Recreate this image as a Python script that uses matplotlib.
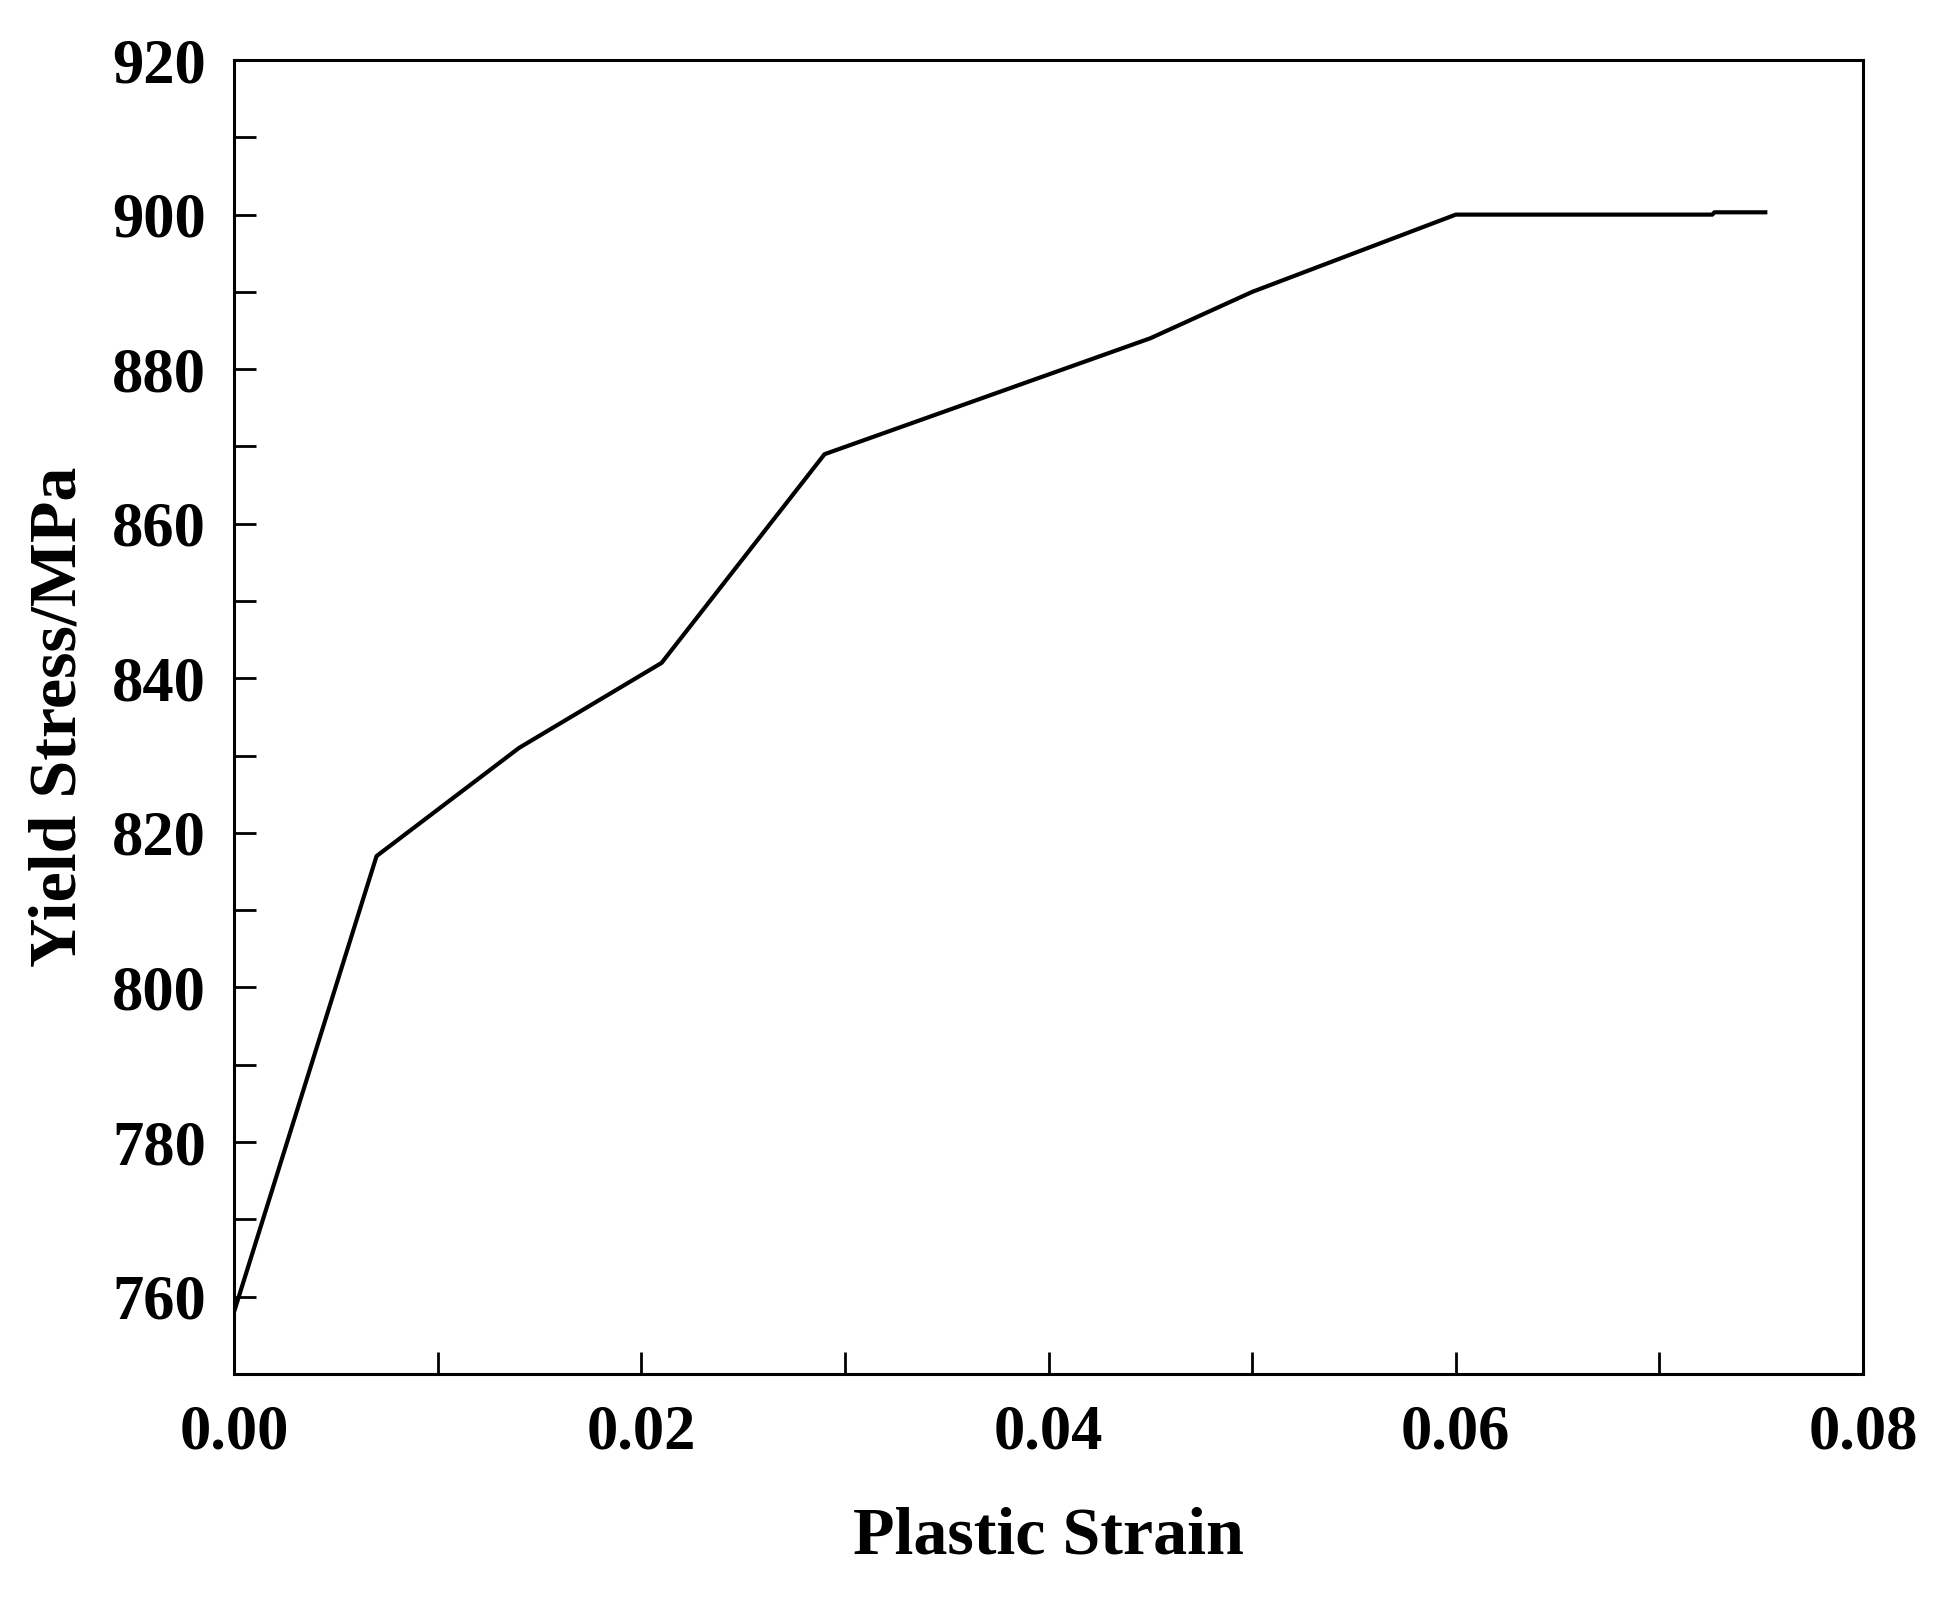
import matplotlib
matplotlib.use("Agg")
import matplotlib.pyplot as plt
from matplotlib.ticker import MultipleLocator

# data
strain = [0.0, 0.007, 0.014, 0.021, 0.029, 0.045, 0.050, 0.060, 0.0726, 0.0727, 0.0752]
stress = [758, 817, 831, 842, 869, 884, 890, 900, 900, 900.3, 900.3]

plt.rcParams['font.family'] = ['Liberation Serif', 'DejaVu Serif']
plt.rcParams['font.weight'] = 'bold'

fig = plt.figure(figsize=(19.5, 15.97), dpi=100)
ax = fig.add_axes([0.12, 0.1397, 0.8354, 0.8227])

ax.plot(strain, stress, color='black', linewidth=3.0)

ax.set_xlim(0, 0.08)
ax.set_ylim(750, 920)

ax.xaxis.set_major_locator(MultipleLocator(0.02))
ax.xaxis.set_minor_locator(MultipleLocator(0.01))
ax.yaxis.set_major_locator(MultipleLocator(20))
ax.yaxis.set_minor_locator(MultipleLocator(10))
ax.xaxis.set_major_formatter(plt.FormatStrFormatter('%.2f'))

ax.tick_params(axis='both', which='both', direction='in', length=16, width=2,
               top=False, right=False)
ax.tick_params(axis='x', which='major', labelsize=45, pad=22)
ax.tick_params(axis='y', which='major', labelsize=45, pad=20)

for sp in ax.spines.values():
    sp.set_linewidth(2.2)

ax.set_xlabel('Plastic Strain', fontsize=49, fontweight='bold', labelpad=32)
ax.set_ylabel('Yield Stress/MPa', fontsize=49, fontweight='bold', labelpad=16)

fig.savefig('out.png', dpi=100)
